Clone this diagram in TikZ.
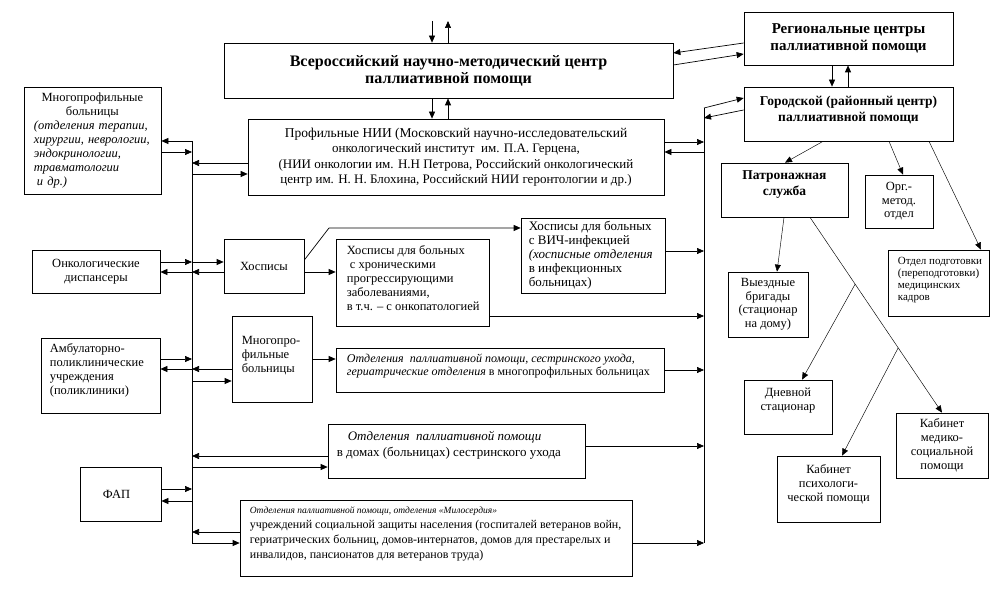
\documentclass[tikz,border=0pt]{standalone}
\usepackage{fontspec}
\setmainfont{Liberation Serif}
\usetikzlibrary{arrows.meta,calc}
\begin{document}
\begin{tikzpicture}[x=1pt,y=-1pt,
  box/.style={draw, line width=0.7pt, inner sep=0pt, rectangle},
  txt/.style={inner sep=0pt, font=\fontsize{12.5}{14}\selectfont},
  ttl/.style={inner sep=0pt, align=center, font=\bfseries\fontsize{15}{17}\selectfont},
  ttls/.style={inner sep=0pt, align=center, font=\bfseries\fontsize{13.5}{16}\selectfont},
  arr/.style={line width=0.7pt, -{Triangle[length=7pt,width=6pt]}},
  tarr/.style={line width=0.45pt, -{Triangle[length=7pt,width=6pt]}},
  ln/.style={line width=0.7pt},
  tln/.style={line width=0.45pt}]
\fill[white] (0,0) rectangle (993,609);
\useasboundingbox (0,0) rectangle (993,609);

% ---------- boxes ----------
\node[box, minimum width=449pt, minimum height=55pt] (vser) at (448.5,70.5) {};
\node[ttl, font=\bfseries\fontsize{16}{17}\selectfont] (vser-t) at (vser.center) {Всероссийский научно-методический центр\\паллиативной помощи};

\node[box, minimum width=416pt, minimum height=76pt] (nii) at (456,157) {};
\node[txt, align=center, font=\fontsize{13}{15.5}\selectfont] (nii-t) at (nii.center)
  {{\fontsize{13.5}{15.5}\selectfont Профильные НИИ (Московский научно-исследовательский}\\онкологический институт\ \ им. П.А. Герцена,\\(НИИ онкологии им. Н.Н Петрова, Российский онкологический\\центр им. Н. Н. Блохина, Российский НИИ геронтологии и др.)};

\node[box, minimum width=209pt, minimum height=53pt] (reg) at (848.5,38.5) {};
\node[ttl] (reg-t) at (reg.center) {Региональные центры\\паллиативной помощи};

\node[box, minimum width=209pt, minimum height=54pt] (gor) at (848.5,114) {};
\node[ttls, yshift=4pt] (gor-t) at (gor.center) {Городской (районный центр)\\паллиативной помощи};

\node[box, minimum width=137pt, minimum height=107pt] (mnogo) at (92.5,140.5) {};
\node[txt, text width=125pt, anchor=west] (mnogo-t) at ([xshift=10pt]mnogo.west)
  {\centering\hspace*{-8pt}Многопрофильные\\\hspace*{-8pt}больницы\par\raggedright\itshape (отделения терапии,\\хирургии, неврологии,\\эндокринологии,\\травматологии\\\hspace*{3pt}и др.)\par};

\node[box, minimum width=128pt, minimum height=43pt] (onko) at (96,271.5) {};
\node[txt, align=center] (onko-t) at (onko.center) {Онкологические\\диспансеры};

\node[box, minimum width=80pt, minimum height=54pt] (hosp) at (264,266) {};
\node[txt] (hosp-t) at (hosp.center) {Хосписы};

\node[box, minimum width=153pt, minimum height=87pt] (hron) at (412.5,282.5) {};
\node[txt, align=left, anchor=west, yshift=4pt] (hron-t) at ([xshift=11pt]hron.west)
  {Хосписы для больных\\\hspace*{3pt}с хроническими\\прогрессирующими\\заболеваниями,\\в т.ч. – с онкопатологией};

\node[box, minimum width=144pt, minimum height=75pt] (vich) at (593,255.5) {};
\node[txt, align=left, anchor=west, font=\fontsize{13}{14}\selectfont] (vich-t) at ([xshift=8pt]vich.west)
  {Хосписы для больных\\с ВИЧ-инфекцией\\\textit{(хосписные отделения}\\в инфекционных\\больницах)};

\node[box, minimum width=80pt, minimum height=86pt] (mnogo2) at (272,359) {};
\node[txt, align=left, anchor=west, yshift=3pt] (mnogo2-t) at ([xshift=10pt]mnogo2.west)
  {Многопро-\\фильные\\больницы};

\node[box, minimum width=119pt, minimum height=75pt] (ambul) at (100.5,375.5) {};
\node[txt, align=left, anchor=west, yshift=5pt] (ambul-t) at ([xshift=9pt]ambul.west)
  {Амбулаторно-\\поликлинические\\учреждения\\(поликлиники)};

\node[box, minimum width=328pt, minimum height=44pt] (otdmn) at (500,370) {};
\node[txt, align=left, anchor=west, yshift=4pt, font=\fontsize{12}{13}\selectfont] (otdmn-t) at ([xshift=11pt]otdmn.west)
  {\textit{Отделения\ \ паллиативной помощи, сестринского ухода,}\\\textit{гериатрические отделения} в многопрофильных больницах};

\node[box, minimum width=257pt, minimum height=54pt] (doma) at (456.5,451) {};
\node[txt, align=left, anchor=west, yshift=6pt, font=\fontsize{13}{16}\selectfont] (doma-t) at ([xshift=9pt]doma.west)
  {\hspace*{11pt}\textit{Отделения\ \ паллиативной помощи}\\в домах (больницах)\ сестринского ухода};

\node[box, minimum width=81pt, minimum height=54pt] (fap) at (120.5,494) {};
\node[txt, xshift=-4pt] (fap-t) at (fap.center) {ФАП};

\node[box, minimum width=392pt, minimum height=76pt] (milo) at (436,538) {};
\node[txt, align=left, anchor=west, yshift=4pt, font=\fontsize{12}{15}\selectfont] (milo-t) at ([xshift=10pt]milo.west)
  {{\fontsize{9.5}{15}\selectfont\itshape Отделения паллиативной помощи, отделения «Милосердия»}\\учреждений социальной защиты населения (госпиталей ветеранов войн,\\гериатрических больниц, домов-интернатов, домов для престарелых и\\инвалидов, пансионатов для ветеранов труда)};

\node[box, minimum width=127pt, minimum height=54pt] (patr) at (784.5,190) {};
\node[ttls, yshift=5pt] (patr-t) at (patr.center) {Патронажная\\служба};

\node[box, minimum width=68pt, minimum height=53pt] (org) at (899,201.5) {};
\node[txt, align=center, font=\fontsize{12.5}{13.5}\selectfont] (org-t) at (org.center) {Орг.-\\метод.\\отдел};

\node[box, minimum width=101pt, minimum height=66pt] (podg) at (938.5,283) {};
\node[txt, align=left, anchor=west, yshift=3pt, font=\fontsize{11}{12}\selectfont] (podg-t) at ([xshift=10pt]podg.west)
  {Отдел подготовки\\(переподготовки)\\медицинских\\кадров};

\node[box, minimum width=80pt, minimum height=65pt] (vyezd) at (768,304.5) {};
\node[txt, align=center, font=\fontsize{12.5}{13.5}\selectfont] (vyezd-t) at (vyezd.center) {Выездные\\бригады\\(стационар\\на дому)};

\node[box, minimum width=88pt, minimum height=54pt] (dnev) at (788,407) {};
\node[txt, align=center, yshift=6pt] (dnev-t) at (dnev.center) {Дневной\\стационар};

\node[box, minimum width=103pt, minimum height=66pt] (psych) at (828.5,489) {};
\node[txt, align=center, yshift=5pt] (psych-t) at (psych.center) {Кабинет\\психологи-\\ческой помощи};

\node[box, minimum width=92pt, minimum height=65pt] (medsoc) at (942,445.5) {};
\node[txt, align=center] (medsoc-t) at (medsoc.center) {Кабинет\\медико-\\социальной\\помощи};

% ---------- bus coordinates ----------
\coordinate (Ltop) at (192,141);
\coordinate (Lbot) at (192,543);
\coordinate (Rtop) at (704,108);
\coordinate (Rbot) at (704,543);
\coordinate (topin) at (432,21);
\coordinate (topout) at (448,21);
\coordinate (vbend) at (329,228);

\draw[ln] (Ltop) -- (Lbot);
\draw[ln] (Rtop) -- (Rbot);

% top
\draw[arr] (topin) -- (topin |- vser.north);
\draw[arr] (vser.north -| topout) -- (topout);
\draw[arr] (vser.south -| topin) -- (nii.north -| topin);
\draw[arr] (nii.north -| topout) -- (vser.south -| topout);

% regional <-> all-russian
\draw[arr] (reg.west |- 0,43) -- (vser.east |- 0,53);
\draw[arr] (vser.east |- 0,65) -- (reg.west |- 0,54);
% regional <-> city
\draw[arr] (reg.south -| 832,0) -- (gor.north -| 832,0);
\draw[arr] (gor.north -| 848,0) -- (reg.south -| 848,0);

% right bus <-> city
\draw[arr] (Rtop) -- (gor.west |- 0,98);
\draw[arr] (gor.west |- 0,110) -- (Rtop |- 0,118);

% into right bus
\draw[arr] (nii.east |- 0,142) -- (Rtop |- 0,142);
\draw[arr] (Rtop |- 0,152) -- (nii.east |- 0,152);
\draw[arr] (vich.east |- 0,251) -- (Rtop |- 0,251);
\draw[arr] (hron.east |- 0,316) -- (Rtop |- 0,316);
\draw[arr] (otdmn.east |- 0,370) -- (Rtop |- 0,370);
\draw[arr] (doma.east |- 0,446) -- (Rtop |- 0,446);
\draw[arr] (milo.east |- Rbot) -- (Rbot);

% left bus
\draw[arr] (Ltop) -- (mnogo.east |- Ltop);
\draw[arr] (mnogo.east |- 0,152) -- (Ltop |- 0,152);
\draw[arr] (nii.west |- 0,163) -- (Ltop |- 0,163);
\draw[arr] (Ltop |- 0,174) -- (nii.west |- 0,174);

\draw[arr] (onko.east |- 0,262) -- (Ltop |- 0,262);
\draw[arr] (Ltop |- 0,262) -- (hosp.west |- 0,262);
\draw[arr] (hosp.west |- 0,272) -- (Ltop |- 0,272);
\draw[arr] (Ltop |- 0,272) -- (onko.east |- 0,272);

\draw[arr] (ambul.east |- 0,359) -- (Ltop |- 0,359);
\draw[arr] (Ltop |- 0,369) -- (ambul.east |- 0,369);
\draw[arr] (mnogo2.west |- 0,369) -- (Ltop |- 0,369);
\draw[arr] (Ltop |- 0,381) -- (mnogo2.west |- 0,381);

\draw[arr] (doma.west |- 0,456) -- (Ltop |- 0,456);
\draw[arr] (Ltop |- 0,467) -- (doma.west |- 0,467);

\draw[arr] (fap.east |- 0,489) -- (Ltop |- 0,489);
\draw[arr] (Ltop |- 0,501) -- (fap.east |- 0,501);

\draw[arr] (milo.west |- 0,532) -- (Ltop |- 0,532);
\draw[arr] (Lbot) -- (milo.west |- Lbot);

% hospices
\draw[arr] (hosp.east |- 0,272) -- (hron.west |- 0,272);
\draw[arr] (hosp.east |- 0,260) -- (vbend) -- (vich.west |- vbend);
\draw[arr] (mnogo2.east |- 0,359) -- (otdmn.west |- 0,359);

% right cluster
\draw[tarr] (gor.south -| 823,0) -- (patr.north -| 785,0);
\draw[tarr] (gor.south -| 889,0) -- (org.north -| 903,0);
\draw[tarr] (gor.south -| 929,0) -- (podg.north -| 981,0);
\draw[tarr] (patr.south -| 784,0) -- (vyezd.north -| 777,0);
\coordinate (pm1) at (patr.south -| 810,0);
\coordinate (pm2) at (medsoc.north -| 942,0);
\draw[tarr] (pm1) -- (pm2);
\coordinate (b1) at ($(pm1)!0.342!(pm2)$);
\coordinate (b2) at ($(pm1)!0.668!(pm2)$);
\draw[tarr] (b1) -- (dnev.north -| 802,0);
\draw[tarr] (b2) -- (psych.north -| 842,0);
\end{tikzpicture}
\end{document}
